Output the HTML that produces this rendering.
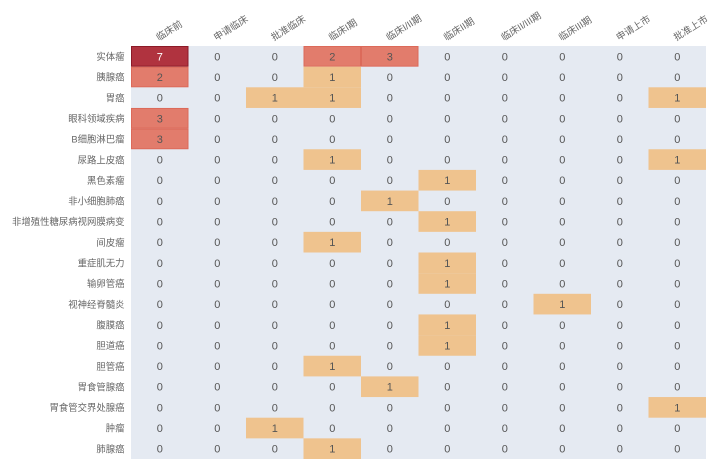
<!DOCTYPE html>
<html>
<head>
<meta charset="utf-8">
<style>
html,body{margin:0;padding:0;background:#fff;}
svg{display:block;}
text{font-family:"Liberation Sans","Noto Sans CJK SC",sans-serif;font-size:11px;}
.lab text{font-size:9.4px;}
.hdr text{font-size:9.6px;}
</style>
</head>
<body>
<svg width="718" height="465" viewBox="0 0 718 465" xmlns="http://www.w3.org/2000/svg">
<rect x="131" y="46" width="575" height="413" fill="#e5eaf2"/>
<g stroke-width="1">
<rect x="131.5" y="46.5" width="56.5" height="19.65" fill="#b0333f" stroke="#8c1a28"/>
<rect x="304" y="46.5" width="56.5" height="19.65" fill="#e27c6c" stroke="#dc6a5a"/>
<rect x="361.5" y="46.5" width="56.5" height="19.65" fill="#e27c6c" stroke="#dc6a5a"/>
<rect x="131.5" y="67.15" width="56.5" height="19.65" fill="#e27c6c" stroke="#dc6a5a"/>
<rect x="131.5" y="108.45" width="56.5" height="19.65" fill="#e27c6c" stroke="#dc6a5a"/>
<rect x="131.5" y="129.1" width="56.5" height="19.65" fill="#e27c6c" stroke="#dc6a5a"/>
</g>
<g fill="#efc38e">
<rect x="303.5" y="66.65" width="57.5" height="20.65"/>
<rect x="246" y="87.3" width="57.5" height="20.65"/>
<rect x="303.5" y="87.3" width="57.5" height="20.65"/>
<rect x="648.5" y="87.3" width="57.5" height="20.65"/>
<rect x="303.5" y="149.25" width="57.5" height="20.65"/>
<rect x="648.5" y="149.25" width="57.5" height="20.65"/>
<rect x="418.5" y="169.9" width="57.5" height="20.65"/>
<rect x="361" y="190.55" width="57.5" height="20.65"/>
<rect x="418.5" y="211.2" width="57.5" height="20.65"/>
<rect x="303.5" y="231.85" width="57.5" height="20.65"/>
<rect x="418.5" y="252.5" width="57.5" height="20.65"/>
<rect x="418.5" y="273.15" width="57.5" height="20.65"/>
<rect x="533.5" y="293.8" width="57.5" height="20.65"/>
<rect x="418.5" y="314.45" width="57.5" height="20.65"/>
<rect x="418.5" y="335.1" width="57.5" height="20.65"/>
<rect x="303.5" y="355.75" width="57.5" height="20.65"/>
<rect x="361" y="376.4" width="57.5" height="20.65"/>
<rect x="648.5" y="397.05" width="57.5" height="20.65"/>
<rect x="246" y="417.7" width="57.5" height="20.65"/>
<rect x="303.5" y="438.35" width="57.5" height="20.65"/>
</g>

<!-- cell values -->
<text x="159.75" y="60.3" text-anchor="middle" fill="#ffffff">7</text>
<g fill="#555555" text-anchor="middle">
<text x="217.25 274.75 332.25 389.75 447.25 504.75 562.25 619.75 677.25" y="60.3">002300000</text>
<text x="159.75 217.25 274.75 332.25 389.75 447.25 504.75 562.25 619.75 677.25" y="81">2001000000</text>
<text x="159.75 217.25 274.75 332.25 389.75 447.25 504.75 562.25 619.75 677.25" y="101.6">0011000001</text>
<text x="159.75 217.25 274.75 332.25 389.75 447.25 504.75 562.25 619.75 677.25" y="122.3">3000000000</text>
<text x="159.75 217.25 274.75 332.25 389.75 447.25 504.75 562.25 619.75 677.25" y="142.9">3000000000</text>
<text x="159.75 217.25 274.75 332.25 389.75 447.25 504.75 562.25 619.75 677.25" y="163.6">0001000001</text>
<text x="159.75 217.25 274.75 332.25 389.75 447.25 504.75 562.25 619.75 677.25" y="184.2">0000010000</text>
<text x="159.75 217.25 274.75 332.25 389.75 447.25 504.75 562.25 619.75 677.25" y="204.9">0000100000</text>
<text x="159.75 217.25 274.75 332.25 389.75 447.25 504.75 562.25 619.75 677.25" y="225.5">0000010000</text>
<text x="159.75 217.25 274.75 332.25 389.75 447.25 504.75 562.25 619.75 677.25" y="246.2">0001000000</text>
<text x="159.75 217.25 274.75 332.25 389.75 447.25 504.75 562.25 619.75 677.25" y="266.8">0000010000</text>
<text x="159.75 217.25 274.75 332.25 389.75 447.25 504.75 562.25 619.75 677.25" y="287.5">0000010000</text>
<text x="159.75 217.25 274.75 332.25 389.75 447.25 504.75 562.25 619.75 677.25" y="308.1">0000000100</text>
<text x="159.75 217.25 274.75 332.25 389.75 447.25 504.75 562.25 619.75 677.25" y="328.8">0000010000</text>
<text x="159.75 217.25 274.75 332.25 389.75 447.25 504.75 562.25 619.75 677.25" y="349.4">0000010000</text>
<text x="159.75 217.25 274.75 332.25 389.75 447.25 504.75 562.25 619.75 677.25" y="370.1">0001000000</text>
<text x="159.75 217.25 274.75 332.25 389.75 447.25 504.75 562.25 619.75 677.25" y="390.7">0000100000</text>
<text x="159.75 217.25 274.75 332.25 389.75 447.25 504.75 562.25 619.75 677.25" y="411.4">0000000001</text>
<text x="159.75 217.25 274.75 332.25 389.75 447.25 504.75 562.25 619.75 677.25" y="432">0010000000</text>
<text x="159.75 217.25 274.75 332.25 389.75 447.25 504.75 562.25 619.75 677.25" y="452.7">0001000000</text>
</g>

<!-- row labels -->
<g fill="#666666" text-anchor="end" class="lab">
<text x="124.5" y="60">实体瘤</text>
<text x="124.5" y="80.7">胰腺癌</text>
<text x="124.5" y="101.3">胃癌</text>
<text x="124.5" y="122">眼科领域疾病</text>
<text x="124.5" y="142.6">B细胞淋巴瘤</text>
<text x="124.5" y="163.3">尿路上皮癌</text>
<text x="124.5" y="183.9">黑色素瘤</text>
<text x="124.5" y="204.6">非小细胞肺癌</text>
<text x="124.5" y="225.2">非增殖性糖尿病视网膜病变</text>
<text x="124.5" y="245.9">间皮瘤</text>
<text x="124.5" y="266.5">重症肌无力</text>
<text x="124.5" y="287.2">输卵管癌</text>
<text x="124.5" y="307.8">视神经脊髓炎</text>
<text x="124.5" y="328.5">腹膜癌</text>
<text x="124.5" y="349.1">胆道癌</text>
<text x="124.5" y="369.8">胆管癌</text>
<text x="124.5" y="390.4">胃食管腺癌</text>
<text x="124.5" y="411.1">胃食管交界处腺癌</text>
<text x="124.5" y="431.7">肿瘤</text>
<text x="124.5" y="452.4">肺腺癌</text>
</g>

<!-- column headers -->
<g fill="#666666" text-anchor="start" class="hdr">
<text x="158.75" y="41" transform="rotate(-32 158.75 41)">临床前</text>
<text x="216.25" y="41" transform="rotate(-32 216.25 41)">申请临床</text>
<text x="273.75" y="41" transform="rotate(-32 273.75 41)">批准临床</text>
<text x="331.25" y="41" transform="rotate(-32 331.25 41)">临床I期</text>
<text x="388.75" y="41" transform="rotate(-32 388.75 41)">临床I/II期</text>
<text x="446.25" y="41" transform="rotate(-32 446.25 41)">临床II期</text>
<text x="503.75" y="41" transform="rotate(-32 503.75 41)">临床II/III期</text>
<text x="561.25" y="41" transform="rotate(-32 561.25 41)">临床III期</text>
<text x="618.75" y="41" transform="rotate(-32 618.75 41)">申请上市</text>
<text x="676.25" y="41" transform="rotate(-32 676.25 41)">批准上市</text>
</g>
</svg>
</body>
</html>
